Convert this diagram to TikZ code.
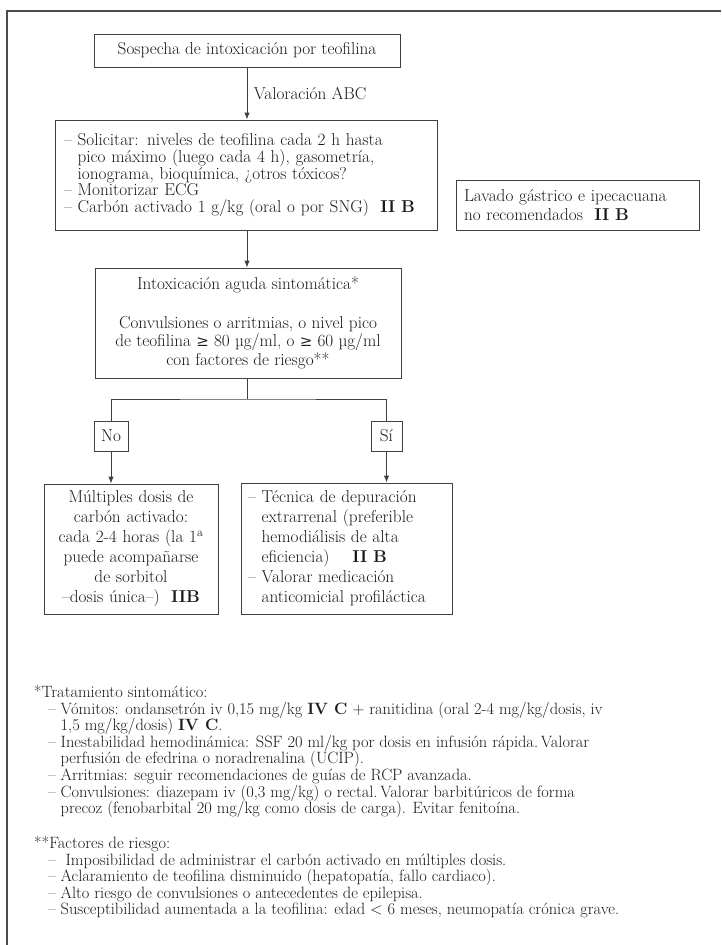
\documentclass[tikz,border=0pt]{standalone}
\usepackage{fontspec}
\usepackage{amsmath,amssymb}
\usetikzlibrary{arrows.meta}

\newfontfamily\simbolos{DejaVu Serif}
\newcommand{\sangria}{\phantom{--\ }}
\newcommand{\mayorigual}{{\simbolos\fontsize{15}{15}\selectfont ≥}}

\begin{document}
\begin{tikzpicture}[x=1pt, y=-1pt, every node/.style={font=\fontsize{17.2}{18}\selectfont, text=black!90}, >={Latex[length=7pt,width=5.5pt]},
	caja/.style={draw=black!75, line width=0.9pt, inner ysep=0pt},
	nota/.style={anchor=north west, inner sep=0pt, align=left, font=\fontsize{16.4}{16.6}\selectfont}]
	\useasboundingbox (0,0) rectangle (721,945);
	\draw[black!70, line width=1.2pt] (721,11) -- (7,11) -- (7,945);

	\node[caja, minimum width=306, minimum height=33] (sosp) at (247,50.5) {Sospecha de intoxicación por teofilina};
	\node[caja, minimum width=382, minimum height=110, inner xsep=9pt, text width=364, align=left, font=\fontsize{17.2}{16.3}\selectfont] (solicitar) at (246,175)
		{-- Solicitar: niveles de teofilina cada 2 h hasta\\ \sangria pico máximo (luego cada 4 h), gasometría,\\ \sangria ionograma, bioquímica, ¿otros tóxicos?\\ -- Monitorizar ECG\\ -- Carbón activado 1 g/kg (oral o por SNG) \ \textbf{II B}};
	\node[caja, minimum width=243, minimum height=50, inner xsep=8pt, text width=227, align=left, font=\fontsize{17.2}{19}\selectfont] (lavado) at (577.5,205)
		{Lavado gástrico e ipecacuana\\ no recomendados \ \textbf{II B}};
	\node[caja, minimum width=306, minimum height=110, align=center, font=\fontsize{17.2}{18.6}\selectfont] (aguda) at (248,323)
		{Intoxicación aguda sintomática*\\[20pt] Convulsiones o arritmias, o nivel pico\\ de teofilina \mayorigual\ 80 µg/ml, o \mayorigual\ 60 µg/ml\\ con factores de riesgo**};
	\node[caja, minimum width=34, minimum height=30] (no) at (111,436) {No};
	\node[caja, minimum width=31, minimum height=30] (si) at (386.5,436) {Sí};
	\node[caja, minimum width=174, minimum height=130, inner xsep=5pt, text width=164, align=center, font=\fontsize{17.2}{20}\selectfont] (multiples) at (131,549)
		{Múltiples dosis de\\ carbón activado:\\ cada 2-4 horas (la 1\textsuperscript{a}\\ puede acompañarse\\ de sorbitol\\ --dosis única--) \ \textbf{IIB}};
	\node[caja, minimum width=211, minimum height=131, inner xsep=7pt, text width=197, align=left, font=\fontsize{17.2}{20}\selectfont] (tecnica) at (346.5,548.5)
		{-- Técnica de depuración\\ \sangria extrarrenal (preferible\\ \sangria hemodiálisis de alta\\ \sangria eficiencia) \quad\textbf{II B}\\ -- Valorar medicación\\ \sangria anticomicial profiláctica};

	% conectores
	\draw[->, black!75, line width=0.9pt] (sosp) -- node[right, xshift=3pt] {Valoración ABC} (sosp |- solicitar.north);
	\draw[->, black!75, line width=0.9pt] (sosp.south |- solicitar.south) -- (sosp.south |- aguda.north);
	\coordinate (rama) at (247,399);
	\draw[black!75, line width=0.9pt] (sosp.south |- aguda.south) -- (rama);
	\draw[black!75, line width=0.9pt] (no.north) |- (rama) -| (si.north);
	\draw[->, black!75, line width=0.9pt] (no.south) -- (no.south |- multiples.north);
	\draw[->, black!75, line width=0.9pt] (si.south) -- (si.south |- tecnica.north);

	% notas al pie
	\node[nota] (trat) at (34,685) {*Tratamiento sintomático:\\
		\hspace*{14pt}-- Vómitos: ondansetrón iv 0,15 mg/kg \textbf{IV C} + ranitidina (oral 2-4 mg/kg/dosis, iv\\
		\hspace*{14pt}\sangria 1,5 mg/kg/dosis) \textbf{IV C}.\\
		\hspace*{14pt}-- Inestabilidad hemodinámica: SSF 20 ml/kg por dosis en infusión rápida.\,Valorar\\
		\hspace*{14pt}\sangria perfusión de efedrina o noradrenalina (UCIP).\\
		\hspace*{14pt}-- Arritmias: seguir recomendaciones de guías de RCP avanzada.\\
		\hspace*{14pt}-- Convulsiones: diazepam iv (0,3 mg/kg) o rectal.\,Valorar barbitúricos de forma\\
		\hspace*{14pt}\sangria precoz (fenobarbital 20 mg/kg como dosis de carga). Evitar fenitoína.};
	\node[nota] (factores) at (34,836) {**Factores de riesgo:\\
		\hspace*{14pt}-- \ Imposibilidad de administrar el carbón activado en múltiples dosis.\\
		\hspace*{14pt}-- Aclaramiento de teofilina disminuido (hepatopatía, fallo cardiaco).\\
		\hspace*{14pt}-- Alto riesgo de convulsiones o antecedentes de epilepisa.\\
		\hspace*{14pt}-- Susceptibilidad aumentada a la teofilina: edad < 6 meses, neumopatía crónica grave.};
\end{tikzpicture}
\end{document}
